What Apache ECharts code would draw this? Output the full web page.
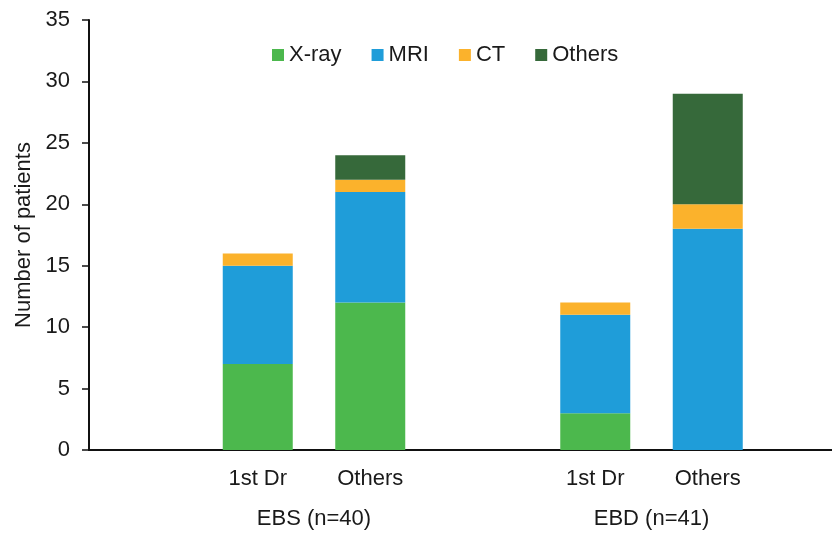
<!DOCTYPE html>
<html>
<head>
<meta charset="utf-8">
<script src="https://cdn.jsdelivr.net/npm/echarts@6/dist/echarts.min.js"></script>
<style>
  html, body { margin: 0; padding: 0; background: #fff; overflow: hidden; }
  #chart { width: 832px; height: 533px; }
</style>
</head>
<body>
<div id="chart"></div>
<script>
// Slots on the category axis: blank spacers around the two groups
const categories = ['', '1st Dr', 'Others', '', '1st Dr', 'Others', ''];
// Group captions keyed by the slot boundary they sit on
const groupLabels = { 2: 'EBS (n=40)', 5: 'EBD (n=41)' };

// Number of patients per imaging modality (null = empty spacer slot)
const xray   = [null, 7, 12, null, 3, 0, null];
const mri    = [null, 8, 9, null, 8, 18, null];
const ct     = [null, 1, 1, null, 1, 2, null];
const others = [null, 0, 2, null, 0, 9, null];

const yTicks = { min: 0, max: 35, step: 5 };

const FONT = "'Liberation Sans', Arial, sans-serif";
const TEXT = '#1a1a1a';
const FS = 22;

const chart = echarts.init(document.getElementById('chart'));

function barSeries(name, data, color) {
  return {
    name: name,
    type: 'bar',
    stack: 'total',
    data: data,
    barWidth: 70,
    itemStyle: { color: color },
    xAxisIndex: 0,
    yAxisIndex: 0
  };
}

chart.setOption({
  animation: false,
  backgroundColor: '#ffffff',
  textStyle: { fontFamily: FONT },
  legend: {
    left: 272,
    top: 44,
    padding: 0,
    itemWidth: 12,
    itemHeight: 12,
    itemGap: 30,
    icon: 'rect',
    textStyle: { fontSize: FS, color: TEXT, fontFamily: FONT },
    data: ['X-ray', 'MRI', 'CT', 'Others']
  },
  grid: { left: 89, top: 20, bottom: 83, width: 787.5, containLabel: false, outerBoundsMode: 'none' },
  xAxis: [
    {
      type: 'category',
      data: categories,
      axisLine: { show: true, lineStyle: { color: '#111', width: 2 } },
      axisTick: { show: false },
      axisLabel: { interval: 0, margin: 18, fontSize: FS, color: TEXT, fontFamily: FONT }
    },
    {
      type: 'value',
      position: 'bottom',
      min: 0,
      max: categories.length,
      interval: 1,
      axisLine: { show: false },
      axisTick: { show: false },
      splitLine: { show: false },
      axisLabel: {
        margin: 58,
        fontSize: FS,
        color: TEXT,
        fontFamily: FONT,
        showMinLabel: true,
        showMaxLabel: true,
        formatter: function (v) { return groupLabels[v] || ''; }
      }
    }
  ],
  yAxis: {
    type: 'value',
    min: yTicks.min,
    max: yTicks.max,
    interval: yTicks.step,
    name: 'Number of patients',
    nameLocation: 'middle',
    nameGap: 54,
    nameTextStyle: { fontSize: FS, color: TEXT, fontFamily: FONT },
    axisLine: { show: true, lineStyle: { color: '#111', width: 2 } },
    axisTick: { show: true, inside: false, length: 7, lineStyle: { color: '#111', width: 1.5 } },
    splitLine: { show: false },
    axisLabel: { margin: 19, fontSize: FS, color: TEXT, fontFamily: FONT }
  },
  series: [
    barSeries('X-ray', xray, '#4cb84d'),
    barSeries('MRI', mri, '#1f9dd9'),
    barSeries('CT', ct, '#fbb22c'),
    barSeries('Others', others, '#36693a')
  ]
});
</script>
</body>
</html>
